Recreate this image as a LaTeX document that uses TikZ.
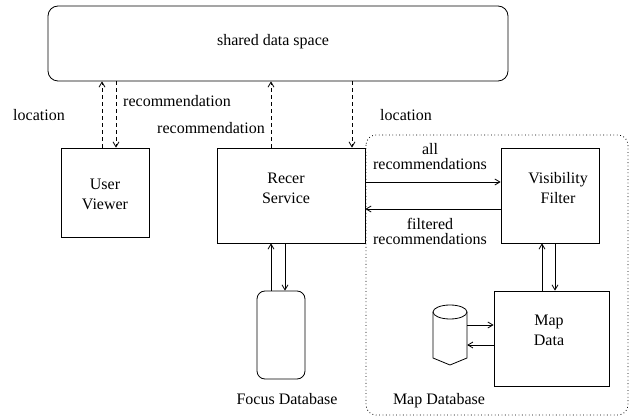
\documentclass[tikz,border=0pt]{standalone}
\usepackage{fontspec}
\setmainfont{Liberation Serif}
\usetikzlibrary{arrows.meta}
\begin{document}
\begin{tikzpicture}[x=1pt,y=-1pt,
  every node/.style={font=\fontsize{16}{20}\selectfont},
  box/.style={draw, line width=0.8pt, inner sep=0pt, rectangle},
  lbl/.style={inner sep=0pt, text height=11pt, text depth=3.5pt},
  ml/.style={inner sep=0pt, align=center},
  tight/.style={inner sep=0pt, align=center, font=\fontsize{16}{15}\selectfont},
  conn/.style={line width=0.8pt, -{Straight Barb[length=5pt,width=6pt]}},
  dsh/.style={conn, dash pattern=on 4pt off 3pt},
]
\useasboundingbox (0,0) rectangle (632,419);
% boxes
\node[box, rounded corners=10pt, minimum width=460pt, minimum height=75pt] (shared) at (278,43.5) {};
\node[lbl] (sharedtxt) at (273,42) {shared data space};
\node[box, minimum width=88pt, minimum height=89pt] (uv) at (105,192.5) {};
\node[ml] (uvtxt) at (105,194) {User\\Viewer};
\node[box, minimum width=148pt, minimum height=95pt] (recer) at (291,195.5) {};
\node[ml] (recertxt) at (286,188) {Recer\\Service};
\node[box, minimum width=98pt, minimum height=95pt] (vf) at (550,195.5) {};
\node[ml] (vftxt) at (558,188) {Visibility\\Filter};
\node[box, minimum width=115pt, minimum height=95pt] (map) at (551.5,338.5) {};
\node[ml] (maptxt) at (549,330) {Map\\Data};
\node[box, rounded corners=8pt, minimum width=48pt, minimum height=88pt] (focus) at (281,335) {};
% cylinder
\node[inner sep=0pt, minimum width=34pt, minimum height=60pt] (cyl) at (450,335) {};
\draw[line width=0.8pt] (450,312) ellipse [x radius=17, y radius=7];
\draw[line width=0.8pt] (433,312) -- (433,358) -- (450,365) -- (467,358) -- (467,312);
% dotted region
\draw[line width=0.8pt, dash pattern=on 0.8pt off 2.6pt, rounded corners=10pt] (366,135) rectangle (628,415);
% labels
\node[lbl] (l1) at (39,117) {location};
\node[lbl] (r1) at (177,103) {recommendation};
\node[lbl] (r2) at (211,130) {recommendation};
\node[lbl] (l2) at (406,117) {location};
\node[tight] (allr) at (430,157) {all\\recommendations};
\node[tight] (filr) at (430,231.5) {filtered\\recommendations};
\node[lbl] (fdb) at (287,401) {Focus Database};
\node[lbl] (mdb) at (439,401) {Map Database};
% dashed connectors
\draw[dsh] ([xshift=-3pt]uv.north) -- ([xshift=-3pt]uv.north |- shared.south);
\draw[dsh] ([xshift=11pt]uv.north |- shared.south) -- ([xshift=11pt]uv.north);
\draw[dsh] ([xshift=-20pt]recer.north) -- ([xshift=-20pt]recer.north |- shared.south);
\draw[dsh] ([xshift=61pt]recer.north |- shared.south) -- ([xshift=61pt]recer.north);
% solid connectors
\draw[conn] ([yshift=13.5pt]recer.east) -- ([yshift=13.5pt]vf.west);
\draw[conn] ([yshift=-13.5pt]vf.west) -- ([yshift=-13.5pt]recer.east);
\draw[conn] ([xshift=-10pt]focus.north) -- ([xshift=-10pt]focus.north |- recer.south);
\draw[conn] ([xshift=4pt]focus.north |- recer.south) -- ([xshift=4pt]focus.north);
\draw[conn] ([xshift=-8pt]vf.south |- map.north) -- ([xshift=-8pt]vf.south);
\draw[conn] ([xshift=5pt]vf.south) -- ([xshift=5pt]vf.south |- map.north);
\draw[conn] ([yshift=13.5pt]map.west -| cyl.east) -- ([yshift=13.5pt]map.west);
\draw[conn] ([yshift=-6.5pt]map.west) -- ([yshift=-6.5pt]map.west -| cyl.east);
\end{tikzpicture}
\end{document}
